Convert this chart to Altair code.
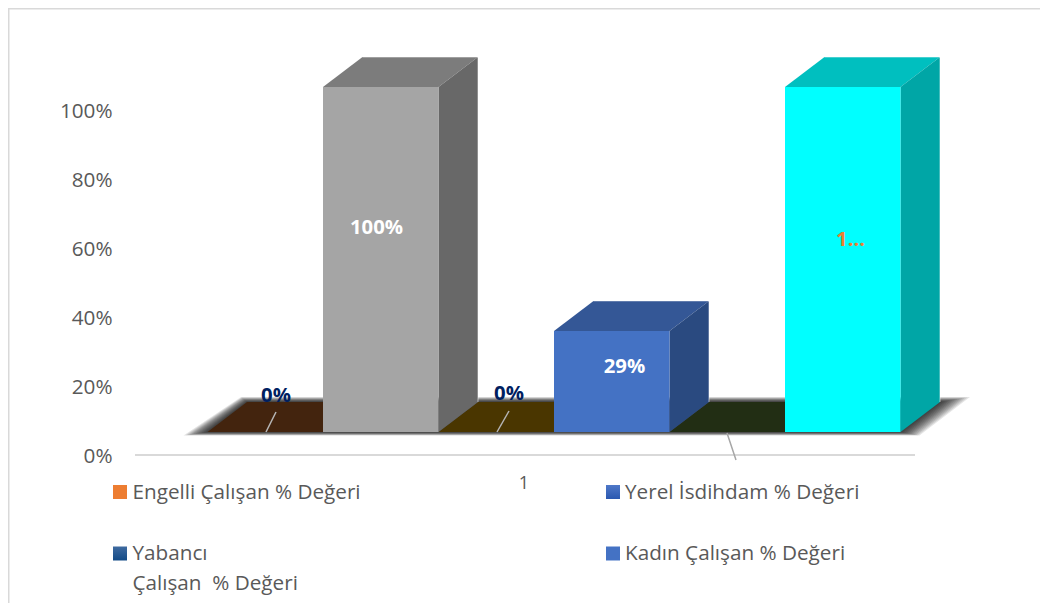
import altair as alt
import pandas as pd

# ---- values
bar_values = [0, 100, 0, 29.3, 0, 100]
front = ["#43240e", "#a5a5a5", "#4a3600", "#4472c4", "#222e14", "#00ffff"]
side = ["#43240e", "#686868", "#4a3600", "#2a4a80", "#222e14", "#00a6a6"]
top = ["#43240e", "#7c7c7c", "#4a3600", "#345796", "#222e14", "#00bfbf"]
y_ticks = [0, 20, 40, 60, 80, 100]

W, H = 1032, 595
PX_PCT = 3.45
PX_UNIT = 115.5
X0 = 207.5
Y0 = 455
FLOOR = (455 - 432) / PX_PCT
DX = 39.5 / PX_UNIT
DY = 30 / PX_PCT
FONT = "Open Sans"

x_scale = alt.Scale(domain=[(8 - X0) / PX_UNIT, (8 + W - X0) / PX_UNIT], nice=False, zero=False)
y_scale = alt.Scale(domain=[(Y0 - 8 - H) / PX_PCT, (Y0 - 8) / PX_PCT], nice=False, zero=False)

fronts, sides, tops, edges = [], [], [], []
for i, v in enumerate(bar_values):
    b, t = FLOOR, FLOOR + v
    if v > 0:
        fronts.append(dict(id=i, x=i, x2=i + 1, y=t, y2=b, c=front[i]))
        sides.append(dict(id=i, x=i + 1, y=t, y2=b, c=side[i]))
        sides.append(dict(id=i, x=i + 1 + DX, y=t + DY, y2=b + DY, c=side[i]))
        edges.append(dict(id=i, o=0, x=i + DX, y=t + DY))
        edges.append(dict(id=i, o=1, x=i + 1 + DX, y=t + DY))
        edges.append(dict(id=i, o=2, x=i + 1 + DX, y=b + DY))
    tops.append(dict(id=i, y=t, x=i, x2=i + 1, c=top[i]))
    tops.append(dict(id=i, y=t + DY, x=i + DX, x2=i + 1 + DX, c=top[i]))

X = lambda f: alt.X(f, type="quantitative", scale=x_scale, axis=None)
Y = lambda f: alt.Y(f, type="quantitative", scale=y_scale, axis=None)
FILL = alt.Fill("c:N", scale=None, legend=None)

# soft shadow under the floor
sh = []
N = 12
for k in range(1, N + 1):
    f = k / N
    sh.append(dict(id=k, y=FLOOR - 3.5 * f / PX_PCT, x=0 - 24 * f / PX_UNIT, x2=6 + 19 * f / PX_UNIT))
    sh.append(dict(id=k, y=FLOOR + DY + 5 * f / PX_PCT, x=DX - 6 * f / PX_UNIT, x2=6 + DX + 30 * f / PX_UNIT))
shadow = alt.Chart(pd.DataFrame(sh)).mark_area(orient="horizontal", color="#000000", opacity=0.1).encode(
    y=Y("y"), x=X("x"), x2="x2", detail="id:N")

axis_layer = alt.Chart(pd.DataFrame({"v": y_ticks})).mark_point(opacity=0).encode(
    y=alt.Y("v:Q", scale=y_scale, axis=alt.Axis(
        values=y_ticks, labelExpr="datum.value + '%'", offset=-104, domain=False, ticks=False, grid=False,
        title=None, labelFont=FONT, labelFontSize=20.7, labelColor="#595959", labelPadding=0, labelOffset=1)),
    x=alt.value(104))

floors = alt.Chart(pd.DataFrame(tops)).mark_area(orient="horizontal").encode(
    y=Y("y"), x=X("x"), x2="x2", fill=FILL, detail="id:N")
sides_l = alt.Chart(pd.DataFrame(sides)).mark_area(orient="vertical").encode(
    x=X("x"), y=Y("y"), y2="y2", fill=FILL, detail="id:N")
fronts_l = alt.Chart(pd.DataFrame(fronts)).mark_rect().encode(
    x=X("x"), x2="x2", y=Y("y"), y2="y2", fill=FILL)
edges_l = alt.Chart(pd.DataFrame(edges)).mark_line(color="#ffffff", opacity=0.55, strokeWidth=1).encode(
    x=X("x"), y=Y("y"), detail="id:N", order="o:Q")


def seg(x1, y1, x2, y2, color, w=1.5):
    return alt.Chart(pd.DataFrame({"a": [0, 1], "x": [x1 - 8, x2 - 8], "y": [y1 - 8, y2 - 8]})).mark_line(
        color=color, strokeWidth=w, clip=False).encode(
        x=alt.X("x:Q", scale=alt.Scale(domain=[0, W], range=[0, W], nice=False), axis=None),
        y=alt.Y("y:Q", scale=alt.Scale(domain=[0, H], range=[0, H], nice=False), axis=None),
        order="a:Q")


def txt(s, x, y, size=20.7, color="#595959", weight="normal", align="left"):
    return alt.Chart(pd.DataFrame({"t": [s]})).mark_text(
        font=FONT, fontSize=size, color=color, fontWeight=weight, align=align, baseline="middle").encode(
        text="t:N", x=alt.value(x - 8), y=alt.value(y - 8))


def swatch(x, y, color):
    return alt.Chart(pd.DataFrame({"a": [0]})).mark_rect(color=color).encode(
        x=alt.value(x - 7 - 8), x2=alt.value(x + 7 - 8), y=alt.value(y - 7 - 8), y2=alt.value(y + 7 - 8))


def grad(c1, c2):
    return alt.LinearGradient(gradient="linear", x1=0, x2=0, y1=0, y2=1,
                              stops=[alt.GradientStop(color=c1, offset=0), alt.GradientStop(color=c2, offset=1)])


layers = [
    swatch(120, 492, "#ed7d31"),
    swatch(120, 553.5, grad("#3f6aa0", "#124a86")),
    swatch(613, 492, grad("#4f78c8", "#2a58b0")),
    swatch(613, 553.5, "#4472c4"),
    seg(135, 455, 915, 455, "#d9d9d9", 2),
    seg(8, 8.5, 1040, 8.5, "#d9d9d9", 2),
    seg(8.5, 8, 8.5, 603, "#d9d9d9", 2),
    shadow,
    floors,
    sides_l,
    edges_l,
    fronts_l,
    seg(266, 432, 276, 412, "#b5b5b5"),
    seg(497, 432, 509, 411, "#b5b5b5"),
    seg(727, 433, 736, 460, "#a6a6a6"),
    axis_layer,
    txt("0%", 276, 396, 20.3, "#002060", "bold", "center"),
    txt("100%", 376.5, 227.5, 20.3, "#ffffff", "bold", "center"),
    txt("0%", 509, 393.5, 20.3, "#002060", "bold", "center"),
    txt("29%", 624.5, 366.5, 20.3, "#ffffff", "bold", "center"),
    txt("1...", 850.5, 239.5, 20.3, "#ed7d31", "bold", "center"),
    txt("1", 524, 484, 18, "#595959", "normal", "center"),
    txt("Engelli Çalışan % Değeri", 132.5, 493),
    txt("Yerel İsdihdam % Değeri", 625, 493),
    txt("Yabancı", 132.5, 554),
    txt("Çalışan\u00a0\u00a0% Değeri", 132.5, 584),
    txt("Kadın Çalışan % Değeri", 625, 554),
]

chart = alt.layer(*layers).resolve_scale(x="independent", y="independent").properties(
    width=W, height=H, padding=0, autosize=alt.AutoSizeParams(type="none"),
    background="#ffffff"
).configure_view(stroke=None)

chart.save("out.html", embed_options={"renderer": "svg", "actions": False})
